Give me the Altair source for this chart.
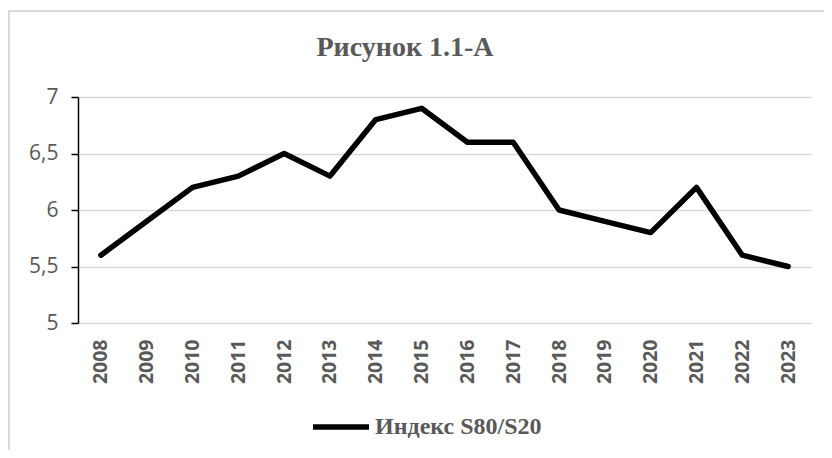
import altair as alt
import pandas as pd

years = [str(y) for y in range(2008, 2024)]
values = [5.6, 5.9, 6.2, 6.3, 6.5, 6.3, 6.8, 6.9, 6.6, 6.6, 6.0, 5.9, 5.8, 6.2, 5.6, 5.5]
series_name = "Индекс S80/S20"
y_ticks = [5, 5.5, 6, 6.5, 7]
title_text = "Рисунок 1.1-А"

df = pd.DataFrame({"year": years, "value": values, "series": series_name})

GRAY = "#595959"

frame = alt.Chart(alt.Data(values=[{}])).mark_rect(
    filled=False, stroke="#d9d9d9", strokeWidth=2
).encode(
    x=alt.value(-69), x2=alt.value(800), y=alt.value(-86), y2=alt.value(500)
)

title = alt.Chart(alt.Data(values=[{"t": title_text}])).mark_text(
    font="Liberation Serif", fontSize=28, fontWeight="bold", color=GRAY,
    align="center", baseline="alphabetic"
).encode(text="t:N", x=alt.value(327), y=alt.value(-41))

line = alt.Chart(df).mark_line(strokeWidth=5.5, strokeCap="round", strokeJoin="round").encode(
    x=alt.X("year:O", sort=years, title=None,
            scale=alt.Scale(type="point", padding=0.5),
            axis=alt.Axis(labelAngle=-90, labelFont="Open Sans", labelFontSize=19.5,
                          labelFontWeight="bold", labelColor=GRAY, labelPadding=16,
                          domain=False, ticks=False, grid=False, labelBaseline="middle")),
    y=alt.Y("value:Q", title=None,
            scale=alt.Scale(domain=[5, 7], nice=False, zero=False),
            axis=alt.Axis(values=y_ticks, labelExpr="replace(toString(datum.value), '.', ',')",
                          labelFont="Open Sans", labelFontSize=21, labelColor=GRAY,
                          labelPadding=13, domain=True, domainColor="black", domainWidth=1.5,
                          ticks=True, tickColor="black", tickSize=7, tickWidth=1.5,
                          grid=True, gridColor="#d9d9d9", gridWidth=1.5)),
    color=alt.Color("series:N", scale=alt.Scale(range=["black"]),
                    legend=alt.Legend(title=None, orient="none", legendX=232, legendY=299,
                                      symbolType="stroke", symbolSize=3136, symbolStrokeWidth=5.5,
                                      labelFont="Liberation Serif", labelFontSize=24,
                                      labelFontWeight="bold", labelColor=GRAY, labelLimit=400,
                                      labelOffset=3, padding=0)),
)

chart = alt.layer(frame, title, line).properties(
    width=733, height=226,
    autosize=alt.AutoSizeParams(type="none"),
    padding={"left": 70, "top": 89, "right": 13, "bottom": 127},
).configure_view(stroke=None)

chart.save("out.html", embed_options={"renderer": "svg", "actions": False})
